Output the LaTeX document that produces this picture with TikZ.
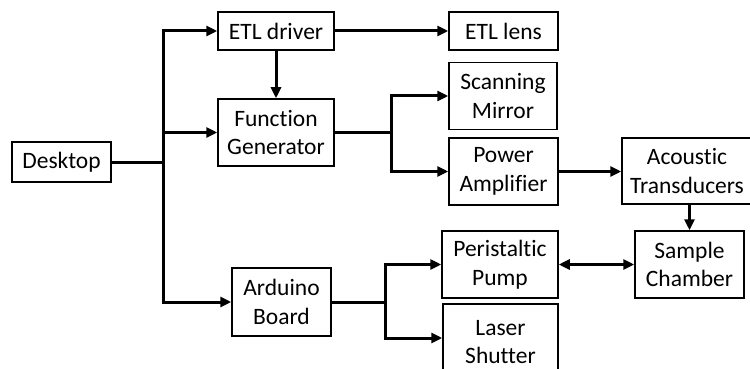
\documentclass[tikz,border=0pt]{standalone}
\usepackage{fontspec}
\setmainfont{Carlito}[Ligatures={NoCommon,NoContextual}]
\usetikzlibrary{arrows.meta}
\begin{document}
\begin{tikzpicture}[x=1pt,y=-1pt,
  blk/.style={draw=black, line width=1.5pt, inner sep=0pt, align=center,
    font=\fontsize{23.5}{28.5}\selectfont},
  conn/.style={line width=3pt, line join=miter},
  arr/.style={conn, -{Triangle[length=11pt,width=10pt]}},
  darr/.style={conn, {Triangle[length=11pt,width=10pt]}-{Triangle[length=11pt,width=10pt]}}]
\useasboundingbox (0,0) rectangle (750,369);
\node[blk, minimum width=99pt, minimum height=40pt] (desk) at (61.5,162) {Desktop};
\node[blk, minimum width=116pt, minimum height=38pt] (etld) at (276,31) {ETL driver};
\node[blk, minimum width=116pt, minimum height=67pt] (fg) at (276,132.5) {Function\\Generator};
\node[blk, minimum width=109pt, minimum height=38pt] (etll) at (503.5,31) {ETL lens};
\node[blk, minimum width=108pt, minimum height=67pt] (scan) at (503,96) {Scanning\\Mirror};
\node[blk, minimum width=109pt, minimum height=67pt] (pamp) at (503.5,171.5) {Power\\Amplifier};
\node[blk, minimum width=130pt, minimum height=66pt] (acou) at (687,171) {Acoustic\\Transducers};
\node[blk, minimum width=109pt, minimum height=67pt] (samp) at (689.5,264.5) {Sample\\Chamber};
\node[blk, minimum width=116pt, minimum height=67pt] (peri) at (500,264.5) {Peristaltic\\Pump};
\node[blk, minimum width=115pt, minimum height=76pt] (laser) at (500.5,342) {Laser\\Shutter};
\node[blk, minimum width=99pt, minimum height=68pt] (ard) at (281.5,302) {Arduino\\Board};
% desktop trunk
\draw[conn] (desk.east) -- (163,162) coordinate (j1);
\draw[arr] (j1) |- (etld.west);
\draw[arr] (j1) |- (fg.west);
\draw[arr] (j1) |- (ard.west);
% etl
\draw[arr] (etld.south) -- (fg.north);
\draw[arr] (etld.east) -- (etll.west);
% function generator branch
\draw[conn] (fg.east) -- (391,132.5) coordinate (j2);
\draw[arr] (j2) |- (scan.west);
\draw[arr] (j2) |- (pamp.west);
\draw[arr] (pamp.east) -- (pamp.east -| acou.west);
\draw[arr] (samp.north |- acou.south) -- (samp.north);
\draw[darr] (peri.east) -- (samp.west);
% arduino branch
\draw[conn] (ard.east) -- (385,302) coordinate (j3);
\draw[arr] (j3) |- (peri.west);
\draw[arr] (j3) -- (j3 |- 0,338) -- (laser.west |- 0,338);
\end{tikzpicture}
\end{document}
